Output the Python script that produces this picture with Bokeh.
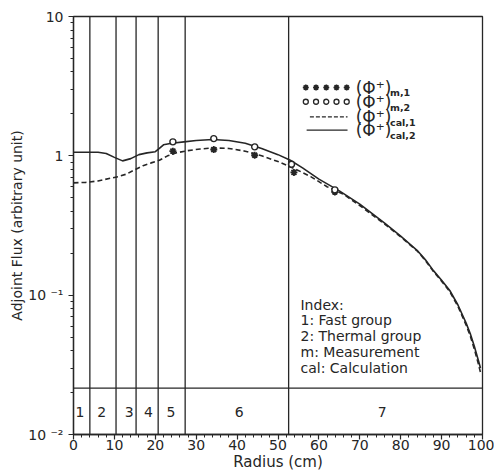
from bokeh.plotting import figure
from bokeh.models import (Span, Label, SingleIntervalTicker, LogTicker,
                          CustomJSTickFormatter, Range1d)
from bokeh.embed import file_html
from bokeh.resources import INLINE
from bokeh.core.properties import value

# ---------------- data ----------------
r_cal2 = [0, 3, 6, 8, 10, 12, 14, 16, 18, 20, 21, 22, 24, 27, 30, 34, 38, 42,
          46, 50, 53, 56, 60, 65, 70, 76, 80, 84, 86, 88, 90, 92, 94, 96, 97,
          98, 99, 99.5]
phi_cal2 = [1.06, 1.06, 1.06, 1.04, 0.975, 0.92, 0.955, 1.02, 1.05, 1.07, 1.13,
            1.20, 1.23, 1.26, 1.29, 1.31, 1.29, 1.23, 1.13, 1.02, 0.93, 0.82,
            0.68, 0.56, 0.45, 0.33, 0.265, 0.21, 0.18, 0.15, 0.128, 0.108,
            0.085, 0.063, 0.053, 0.043, 0.034, 0.030]

r_cal1 = [0, 3, 6, 9, 11, 13, 15, 17, 19, 21, 23, 25, 28, 31, 34, 38, 42, 46,
          50, 54, 58, 62, 66, 70, 76, 80, 84, 86, 88, 90, 92, 94, 96, 97, 98,
          99, 99.5]
phi_cal1 = [0.64, 0.645, 0.66, 0.69, 0.71, 0.74, 0.795, 0.85, 0.89, 0.93, 1.0,
            1.05, 1.09, 1.12, 1.14, 1.13, 1.08, 1.0, 0.91, 0.81, 0.71, 0.60,
            0.53, 0.44, 0.325, 0.262, 0.208, 0.178, 0.148, 0.126, 0.106, 0.083,
            0.061, 0.051, 0.041, 0.032, 0.028]

r_m1 = [24.3, 34.3, 44.3, 53.9, 63.9]
phi_m1 = [1.08, 1.11, 1.01, 0.76, 0.55]

r_m2 = [24.3, 34.3, 44.3, 53.3, 63.9]
phi_m2 = [1.26, 1.33, 1.16, 0.87, 0.57]

region_bounds = [4.0, 10.4, 15.3, 20.7, 27.3, 52.6]
region_names = ["1", "2", "3", "4", "5", "6", "7"]
region_label_x = [1.6, 6.9, 13.6, 18.3, 23.8, 40.5, 75.5]
strip_top = 0.0215
strip_label_y = 0.0146

y_tick_labels = {"-2": "10 \u207b\u00b2", "-1": "10 \u207b\u00b9", "0": "1", "1": "10"}

index_lines = ["Index:", "1: Fast group", "2: Thermal group",
               "m: Measurement", "cal: Calculation"]

# ---------------- style ----------------
INK = "#262626"
FONT = "DejaVu Sans"

p = figure(width=494, height=473, y_axis_type="log",
           x_range=Range1d(0, 100), y_range=Range1d(0.01, 10),
           output_backend="svg", toolbar_location=None,
           min_border_left=73, min_border_right=12, min_border_top=16,
           min_border_bottom=0)
p.background_fill_color = "white"
p.border_fill_color = "white"
p.outline_line_color = INK
p.outline_line_width = 1.3
p.xgrid.visible = False
p.ygrid.visible = False

p.xaxis.ticker = SingleIntervalTicker(interval=10, num_minor_ticks=5)
p.yaxis.ticker = LogTicker(num_minor_ticks=10)
p.yaxis.formatter = CustomJSTickFormatter(args=dict(labels=y_tick_labels), code="""
const e = Math.round(Math.log10(tick));
const s = labels[String(e)];
return s === undefined ? "" : s;
""")

for ax in (p.xaxis[0], p.yaxis[0]):
    ax.axis_line_color = INK
    ax.axis_line_width = 1.3
    ax.major_tick_line_color = INK
    ax.minor_tick_line_color = INK
    ax.major_tick_line_width = 1.2
    ax.minor_tick_line_width = 1.0
    ax.major_tick_in = 0
    ax.major_tick_out = 5
    ax.minor_tick_in = 0
    ax.minor_tick_out = 3
    ax.major_label_text_font = FONT
    ax.major_label_text_font_size = "14px"
    ax.major_label_text_color = INK
    ax.axis_label_text_font = FONT
    ax.axis_label_text_font_size = "14px"
    ax.axis_label_text_font_style = "normal"
    ax.axis_label_text_color = INK

p.xaxis.axis_label = "Radius (cm)"
p.xaxis.axis_label_text_font_size = "15px"
p.yaxis.axis_label = "Adjoint Flux (arbitrary unit)"
p.xaxis.major_label_standoff = 0
p.xaxis.axis_label_standoff = 0
p.yaxis.major_label_standoff = 5
p.yaxis.axis_label_standoff = 0

# region boundaries and bottom strip
for b in region_bounds:
    p.add_layout(Span(location=b, dimension="height", line_color=INK, line_width=1.3))
p.add_layout(Span(location=strip_top, dimension="width", line_color=INK, line_width=1.2))
p.text(x=region_label_x, y=[strip_label_y] * len(region_names), text=region_names,
       text_font=value(FONT), text_font_size="14px", text_color=INK,
       text_align="center", text_baseline="middle")

# curves
p.line(r_cal2, phi_cal2, line_color=INK, line_width=1.6)
p.line(r_cal1, phi_cal1, line_color=INK, line_width=1.6, line_dash="5 3")
p.scatter(r_m1, phi_m1, marker="asterisk", size=7, line_color=INK, line_width=1.8)
p.scatter(r_m2, phi_m2, marker="circle", size=6, line_color=INK, line_width=1.4,
          fill_color="white")

# ---------------- hand-drawn legend ----------------
def ypos(frac):
    # fraction of frame height measured from bottom -> log-axis data value
    return 10 ** (-2 + 3 * frac)

row_frac = [0.830, 0.796, 0.760, 0.728]
mk_x = [56.8, 59.3, 61.8, 64.3, 66.8]
p.scatter(mk_x, [ypos(row_frac[0])] * 5, marker="asterisk", size=6,
          line_color=INK, line_width=1.6)
p.scatter(mk_x, [ypos(row_frac[1])] * 5, marker="circle", size=5,
          line_color=INK, line_width=1.3, fill_color="white")
p.line([57.8, 67.0], [ypos(row_frac[2])] * 2, line_color=INK, line_width=1.3,
       line_dash="4 2")
p.line([57.0, 67.0], [ypos(row_frac[3])] * 2, line_color=INK, line_width=1.3)

subs = ["m,1", "m,2", "cal,1", "cal,2"]
for fr, sb in zip(row_frac, subs):
    p.add_layout(Label(x=69.0, y=ypos(fr), text="(\u03a6\u207a)", text_font=FONT,
                       text_font_size="17px", text_color=INK, text_baseline="middle"))
    p.add_layout(Label(x=77.4, y=ypos(fr - 0.013), text=sb, text_font=FONT,
                       text_font_size="9.5px", text_font_style="bold",
                       text_color=INK, text_baseline="middle"))

# index box text
for i, t in enumerate(index_lines):
    p.add_layout(Label(x=55.5, y=ypos(0.311 - i * 0.038), text=t, text_font=FONT,
                       text_font_size="14px", text_color=INK,
                       text_baseline="middle"))

open("out.html", "w").write(file_html(p, INLINE))
